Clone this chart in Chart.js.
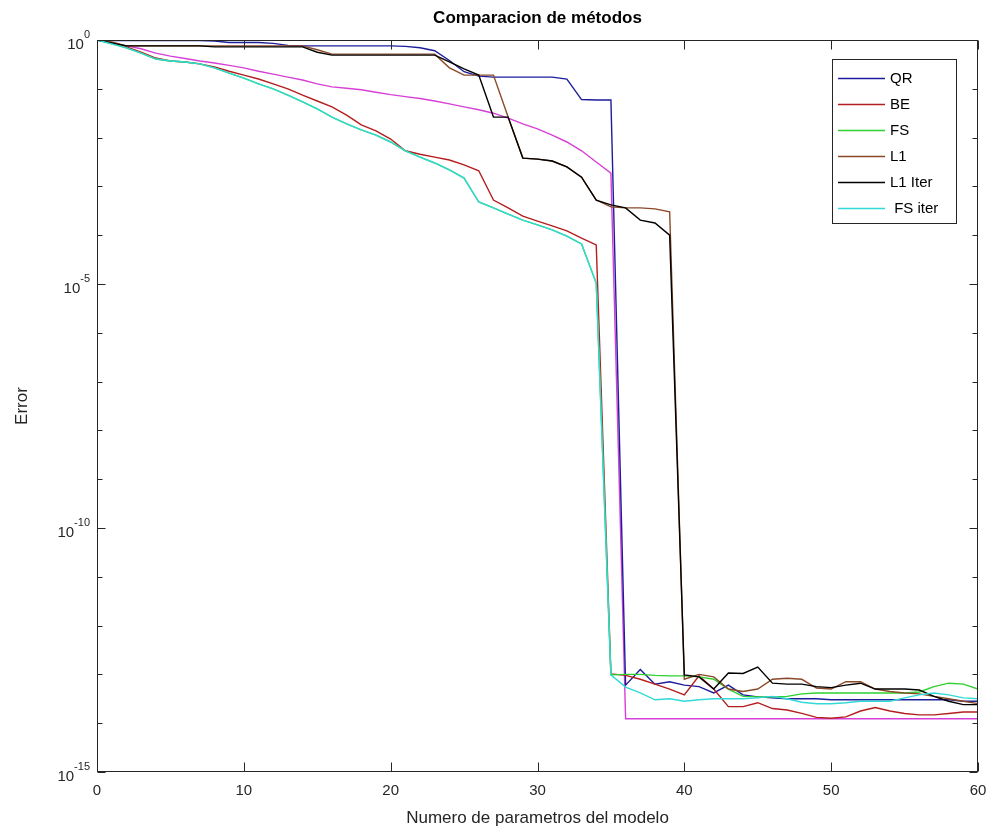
<!DOCTYPE html>
<html>
<head>
<meta charset="utf-8">
<title>Comparacion de métodos</title>
<script src="https://cdn.jsdelivr.net/npm/chart.js@4.4.1/dist/chart.umd.min.js"></script>
<style>
  html, body { margin: 0; padding: 0; background: #fff; }
  #chart { display: block; }
</style>
</head>
<body>
<canvas id="chart" width="994" height="834"></canvas>
<script>
// number of model parameters (x axis)
const xValues = [0, 1, 2, 3, 4, 5, 6, 7, 8, 9, 10, 11, 12, 13, 14, 15, 16, 17, 18, 19, 20,
  21, 22, 23, 24, 25, 26, 27, 28, 29, 30, 31, 32, 33, 34, 35, 36, 37, 38, 39, 40,
  41, 42, 43, 44, 45, 46, 47, 48, 49, 50, 51, 52, 53, 54, 55, 56, 57, 58, 59, 60];

// log10(error), one value per x
const qrLog = [0, -0.01, -0.01, -0.01, -0.01, -0.01, -0.01, -0.01, -0.02, -0.05, -0.05,
  -0.05, -0.07, -0.11, -0.12, -0.12, -0.12, -0.12, -0.12, -0.12, -0.12,
  -0.13, -0.16, -0.22, -0.42, -0.65, -0.74, -0.76, -0.76, -0.76, -0.76,
  -0.76, -0.8, -1.22, -1.23, -1.23, -13.22, -12.9, -13.2, -13.15, -13.22,
  -13.25, -13.38, -13.22, -13.42, -13.46, -13.48, -13.5, -13.5, -13.5, -13.52,
  -13.52, -13.52, -13.52, -13.52, -13.52, -13.52, -13.52, -13.52, -13.55, -13.55];

const beLog = [0, -0.06, -0.14, -0.25, -0.37, -0.43, -0.45, -0.49, -0.55, -0.64, -0.72,
  -0.8, -0.9, -1.0, -1.13, -1.25, -1.37, -1.54, -1.74, -1.86, -2.03,
  -2.27, -2.34, -2.4, -2.46, -2.56, -2.68, -3.28, -3.44, -3.61, -3.71,
  -3.81, -3.91, -4.06, -4.2, -12.99, -13.02, -13.1, -13.2, -13.3, -13.42,
  -13.03, -13.3, -13.66, -13.66, -13.58, -13.7, -13.73, -13.8, -13.88, -13.9,
  -13.87, -13.75, -13.68, -13.75, -13.8, -13.83, -13.83, -13.8, -13.77, -13.77];

const fsLog = [0, -0.08, -0.16, -0.27, -0.39, -0.43, -0.45, -0.49, -0.57, -0.68, -0.78,
  -0.9, -1.0, -1.13, -1.27, -1.41, -1.58, -1.72, -1.84, -1.95, -2.09,
  -2.27, -2.4, -2.52, -2.66, -2.83, -3.32, -3.44, -3.57, -3.69, -3.79,
  -3.89, -4.02, -4.18, -4.98, -13.01, -13.0, -13.0, -13.02, -13.03, -13.03,
  -13.05, -13.1, -13.3, -13.45, -13.46, -13.46, -13.45, -13.4, -13.38, -13.38,
  -13.38, -13.38, -13.38, -13.38, -13.38, -13.36, -13.25, -13.18, -13.2, -13.3];

const l1Log = [0, -0.04, -0.12, -0.12, -0.12, -0.12, -0.12, -0.12, -0.12, -0.12, -0.12,
  -0.12, -0.12, -0.12, -0.12, -0.2, -0.29, -0.29, -0.29, -0.29, -0.29,
  -0.29, -0.29, -0.29, -0.57, -0.72, -0.72, -0.72, -1.58, -2.42, -2.44,
  -2.48, -2.6, -2.81, -3.28, -3.42, -3.44, -3.44, -3.46, -3.52, -13.1,
  -13.0, -13.05, -13.3, -13.35, -13.3, -13.1, -13.08, -13.1, -13.28, -13.3,
  -13.15, -13.15, -13.3, -13.35, -13.38, -13.4, -13.45, -13.5, -13.55, -13.6];

const l1IterLog = [0, -0.06, -0.12, -0.12, -0.12, -0.12, -0.12, -0.12, -0.14, -0.14, -0.14,
  -0.14, -0.14, -0.14, -0.14, -0.25, -0.31, -0.31, -0.31, -0.31, -0.31,
  -0.31, -0.31, -0.31, -0.45, -0.59, -0.72, -1.58, -1.58, -2.42, -2.44,
  -2.48, -2.6, -2.81, -3.28, -3.38, -3.44, -3.69, -3.75, -4.0, -13.01,
  -13.05, -13.3, -12.97, -12.98, -12.85, -13.18, -13.2, -13.2, -13.25, -13.27,
  -13.22, -13.18, -13.3, -13.3, -13.3, -13.32, -13.45, -13.55, -13.62, -13.62];

const fsIterLog = [0, -0.08, -0.16, -0.27, -0.39, -0.43, -0.45, -0.49, -0.57, -0.68, -0.78,
  -0.9, -1.0, -1.13, -1.27, -1.41, -1.58, -1.72, -1.84, -1.95, -2.09,
  -2.27, -2.4, -2.52, -2.66, -2.83, -3.32, -3.44, -3.57, -3.69, -3.79,
  -3.89, -4.02, -4.18, -4.98, -13.01, -13.26, -13.38, -13.52, -13.5, -13.55,
  -13.52, -13.5, -13.5, -13.5, -13.48, -13.45, -13.5, -13.57, -13.6, -13.6,
  -13.58, -13.55, -13.55, -13.55, -13.48, -13.42, -13.38, -13.42, -13.48, -13.5];

// magenta curve that has no legend entry
const extraLog = [0, -0.06, -0.12, -0.18, -0.27, -0.33, -0.38, -0.43, -0.47, -0.52, -0.57,
  -0.64, -0.7, -0.76, -0.82, -0.9, -0.96, -0.99, -1.02, -1.07, -1.12,
  -1.16, -1.2, -1.25, -1.31, -1.37, -1.43, -1.5, -1.6, -1.72, -1.82,
  -1.95, -2.09, -2.27, -2.5, -2.73, -13.91, -13.91, -13.91, -13.91, -13.91,
  -13.91, -13.91, -13.91, -13.91, -13.91, -13.91, -13.91, -13.91, -13.91, -13.91,
  -13.91, -13.91, -13.91, -13.91, -13.91, -13.91, -13.91, -13.91, -13.91, -13.91];

const seriesNames = ['QR', 'BE', 'FS', 'L1', 'L1 Iter', ' FS iter'];
const seriesLogs = [qrLog, beLog, fsLog, l1Log, l1IterLog, fsIterLog];
const seriesColors = ['#1d1d9c', '#b41e1e', '#2fd02f', '#8a4a28', '#000000', '#33d9d9'];
const seriesOrder = [6, 5, 4, 3, 2, 1]; // lower = drawn on top
const extraColor = '#d640d6';

const xTickValues = [0, 10, 20, 30, 40, 50, 60];
const yTickExponents = [0, -5, -10, -15];

const titleText = 'Comparacion de métodos';
const xTitle = 'Numero de parametros del modelo';
const yTitle = 'Error';

const FONT = '"Liberation Sans", Arial, Helvetica, sans-serif';
const AXIS_COLOR = '#262626';

const toPoints = (logs) => logs.map((e, i) => ({ x: xValues[i], y: Math.pow(10, e) }));

const datasets = seriesLogs.map((logs, i) => ({
  label: seriesNames[i].trim(),
  data: toPoints(logs),
  borderColor: seriesColors[i],
  backgroundColor: seriesColors[i],
  borderWidth: 1.4,
  pointRadius: 0,
  tension: 0,
  order: seriesOrder[i],
}));

datasets.push({
  label: 'extra',
  data: toPoints(extraLog),
  borderColor: extraColor,
  backgroundColor: extraColor,
  borderWidth: 1.4,
  pointRadius: 0,
  tension: 0,
  order: 7,
});

// box, inward ticks, tick labels, titles and legend in MATLAB style
const matlabAxes = {
  id: 'matlabAxes',
  afterDraw(chart) {
    const { ctx, chartArea, scales } = chart;
    const left = Math.round(chartArea.left) + 0.5;
    const right = Math.round(chartArea.right) - 0.5;
    const top = Math.round(chartArea.top) + 0.5;
    const bottom = Math.round(chartArea.bottom) - 0.5;
    const cx = (chartArea.left + chartArea.right) / 2;

    ctx.save();
    ctx.strokeStyle = AXIS_COLOR;
    ctx.fillStyle = AXIS_COLOR;
    ctx.lineWidth = 1;
    ctx.strokeRect(left, top, right - left, bottom - top);

    // x ticks
    ctx.font = `15px ${FONT}`;
    ctx.textAlign = 'center';
    ctx.textBaseline = 'middle';
    ctx.beginPath();
    xTickValues.forEach((v) => {
      const px = Math.round(scales.x.getPixelForValue(v)) + 0.5;
      ctx.moveTo(px, bottom);
      ctx.lineTo(px, bottom - 9);
      ctx.moveTo(px, top);
      ctx.lineTo(px, top + 9);
    });
    ctx.stroke();
    xTickValues.forEach((v) => {
      ctx.fillText(String(v), scales.x.getPixelForValue(v), bottom + 19);
    });

    // y ticks, one per decade
    ctx.beginPath();
    for (let d = -15; d <= 0; d++) {
      const py = Math.round(scales.y.getPixelForValue(Math.pow(10, d))) + 0.5;
      const len = yTickExponents.includes(d) ? 8 : 5;
      ctx.moveTo(left, py);
      ctx.lineTo(left + len, py);
      ctx.moveTo(right, py);
      ctx.lineTo(right - len, py);
    }
    ctx.stroke();

    // y tick labels 10^n
    yTickExponents.forEach((d) => {
      const py = scales.y.getPixelForValue(Math.pow(10, d));
      const sup = d === 0 ? '0' : '-' + Math.abs(d);
      ctx.font = `11px ${FONT}`;
      const supW = ctx.measureText(sup).width;
      ctx.font = `15px ${FONT}`;
      const baseW = ctx.measureText('10').width;
      const xEnd = chartArea.left - 7;
      ctx.textAlign = 'left';
      ctx.textBaseline = 'middle';
      ctx.fillText('10', xEnd - supW - baseW, py + 5);
      ctx.font = `11px ${FONT}`;
      ctx.fillText(sup, xEnd - supW, py - 5);
    });

    // titles
    ctx.textAlign = 'center';
    ctx.textBaseline = 'middle';
    ctx.fillStyle = '#000';
    ctx.font = `bold 17px ${FONT}`;
    ctx.fillText(titleText, cx, 18);
    ctx.fillStyle = AXIS_COLOR;
    ctx.font = `17px ${FONT}`;
    ctx.fillText(xTitle, cx, 818);
    ctx.save();
    ctx.translate(22, (chartArea.top + chartArea.bottom) / 2);
    ctx.rotate(-Math.PI / 2);
    ctx.fillText(yTitle, 0, 0);
    ctx.restore();

    // legend
    const box = { x: 832.5, y: 59.5, w: 124, h: 164 };
    ctx.fillStyle = '#fff';
    ctx.fillRect(box.x, box.y, box.w, box.h);
    ctx.strokeStyle = AXIS_COLOR;
    ctx.strokeRect(box.x, box.y, box.w, box.h);
    ctx.font = `15px ${FONT}`;
    ctx.textAlign = 'left';
    seriesNames.forEach((name, i) => {
      const rowY = 78 + i * 26;
      ctx.strokeStyle = seriesColors[i];
      ctx.lineWidth = 1.4;
      ctx.beginPath();
      ctx.moveTo(838, rowY + 0.5);
      ctx.lineTo(885, rowY + 0.5);
      ctx.stroke();
      ctx.fillStyle = '#000';
      ctx.fillText(name, 890, rowY + 1);
    });
    ctx.restore();
  },
};

new Chart(document.getElementById('chart'), {
  type: 'line',
  data: { datasets },
  options: {
    responsive: false,
    animation: false,
    devicePixelRatio: 1,
    layout: { padding: { left: 97, right: 16, top: 40, bottom: 62 } },
    plugins: {
      legend: { display: false },
      title: { display: false },
      tooltip: { enabled: false },
    },
    scales: {
      x: { type: 'linear', min: 0, max: 60, display: false },
      y: { type: 'logarithmic', min: 1e-15, max: 1, display: false },
    },
  },
  plugins: [matlabAxes],
});
</script>
</body>
</html>
